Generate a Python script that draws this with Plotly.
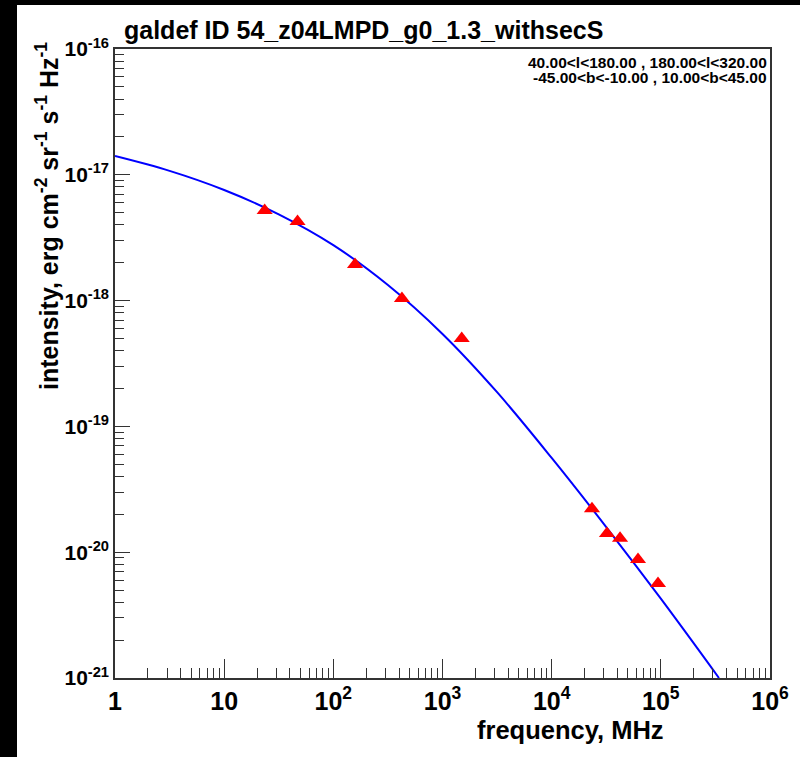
import plotly.graph_objects as go

# ---- data ----
curve_freq = [1, 3.162, 10, 31.62, 100, 316.2, 1000, 3162, 1e4, 31620, 1e5, 3.41e5]
curve_int = [1.409e-17, 1.074e-17, 7.57e-18, 4.85e-18, 2.76e-18, 1.33e-18,
             5.43e-19, 1.87e-19, 5.62e-20, 1.585e-20, 4.27e-21, 1.0e-21]

data_freq = [23.5, 47, 158, 425, 1500, 23400, 32100, 42300, 61800, 94200]
data_int = [5.20e-18, 4.26e-18, 1.94e-18, 1.04e-18, 5.0e-19,
            2.22e-20, 1.41e-20, 1.29e-20, 8.75e-21, 5.64e-21]

x_tickvals = [1, 10, 1e2, 1e3, 1e4, 1e5, 1e6]
x_ticktext = ["1", "10", "10<sup>2</sup>", "10<sup>3</sup>", "10<sup>4</sup>",
              "10<sup>5</sup>", "10<sup>6</sup>"]
y_tickvals = [1e-21, 1e-20, 1e-19, 1e-18, 1e-17, 1e-16]
y_ticktext = ["10<sup>-21</sup>", "10<sup>-20</sup>", "10<sup>-19</sup>",
              "10<sup>-18</sup>", "10<sup>-17</sup>", "10<sup>-16</sup>"]

title_text = "galdef ID 54_z04LMPD_g0_1.3_withsecS"
region_line1 = "40.00<l<180.00 , 180.00<l<320.00"
region_line2 = "-45.00<b<-10.00 , 10.00<b<45.00"
x_title = "frequency, MHz"
y_title = "intensity, erg cm<sup>-2</sup> sr<sup>-1</sup> s<sup>-1</sup> Hz<sup>-1</sup>"

x_minor = [m * 10 ** k for k in range(0, 6) for m in range(2, 10)]
y_minor = [m * 10.0 ** k for k in range(-21, -16) for m in range(2, 10)]

# ---- geometry ----
W, H = 800, 757
L, R, T, B = 115, 30, 49, 79
PW, PH = W - L - R, H - T - B


def px(x):
    return (x - L) / PW


def py(y):
    return (H - B - y) / PH


FONT = "Liberation Sans, Arial, sans-serif"
AX = "#333333"

fig = go.Figure()
fig.add_trace(go.Scatter(x=curve_freq, y=curve_int, mode="lines",
                         line=dict(color="#0000ff", width=2, shape="spline", smoothing=1.0),
                         showlegend=False, hoverinfo="skip"))
fig.add_trace(go.Scatter(x=data_freq, y=data_int, mode="markers",
                         marker=dict(symbol="triangle-up", size=14, color="#ff0000",
                                     line=dict(width=0)),
                         showlegend=False))

fig.update_xaxes(type="log", range=[0, 6], showgrid=False, zeroline=False,
                 showline=True, linecolor=AX, linewidth=1.5, mirror=True,
                 ticks="inside", ticklen=19, tickwidth=1.2, tickcolor=AX,
                 tickmode="array", tickvals=x_tickvals, ticktext=x_ticktext,
                 tickfont=dict(family=FONT, size=25, color="black", weight="bold"),
                 minor=dict(ticks="inside", ticklen=10, tickwidth=1.2, tickcolor=AX,
                            tickmode="array", tickvals=x_minor, showgrid=False))
fig.update_yaxes(type="log", range=[-21, -16], showgrid=False, zeroline=False,
                 showline=True, linecolor=AX, linewidth=1.5, mirror=True,
                 ticks="inside", ticklen=15, tickwidth=1.2, tickcolor=AX,
                 tickmode="array", tickvals=y_tickvals, ticktext=y_ticktext,
                 tickfont=dict(family=FONT, size=21, color="black", weight="bold"),
                 minor=dict(ticks="inside", ticklen=9, tickwidth=1.2, tickcolor=AX,
                            tickmode="array", tickvals=y_minor, showgrid=False))

annotations = [
    dict(text=title_text, x=px(122), y=py(30), xanchor="left", yanchor="middle",
         font=dict(family=FONT, size=25, color="black", weight="bold")),
    dict(text=region_line1, x=px(769), y=py(62), xanchor="right", yanchor="middle",
         font=dict(family=FONT, size=15.5, color="black", weight="bold")),
    dict(text=region_line2, x=px(769), y=py(77.5), xanchor="right", yanchor="middle",
         font=dict(family=FONT, size=15.5, color="black", weight="bold")),
    dict(text=x_title, x=px(570), y=py(730), xanchor="center", yanchor="middle",
         font=dict(family=FONT, size=25.5, color="black", weight="bold")),
    dict(text=y_title, x=px(47), y=py(216), xanchor="center", yanchor="middle",
         textangle=-90, font=dict(family=FONT, size=25, color="black", weight="bold")),
]
for a in annotations:
    a.update(xref="paper", yref="paper", showarrow=False)

shapes = [
    dict(type="rect", xref="paper", yref="paper", x0=px(0), x1=px(17), y0=py(H), y1=py(0),
         fillcolor="black", line=dict(width=0), layer="above"),
    dict(type="rect", xref="paper", yref="paper", x0=px(0), x1=px(W), y0=py(5), y1=py(0),
         fillcolor="black", line=dict(width=0), layer="above"),
]

fig.update_layout(width=W, height=H, margin=dict(l=L, r=R, t=T, b=B, autoexpand=False),
                  paper_bgcolor="white", plot_bgcolor="white",
                  annotations=annotations, shapes=shapes, showlegend=False)

fig.write_html("out.html")
